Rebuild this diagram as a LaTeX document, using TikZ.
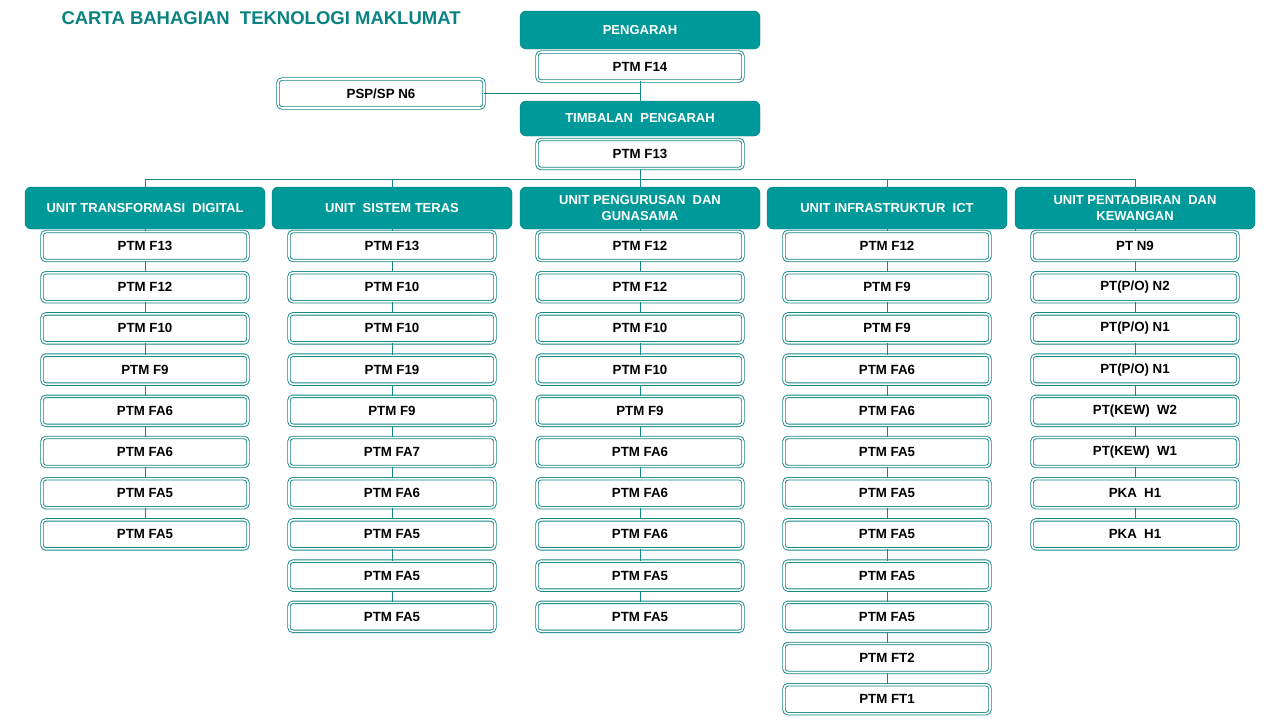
\documentclass[tikz,border=0pt]{standalone}
\usepackage{fontspec}
\setmainfont{Liberation Sans}
\definecolor{tealfill}{RGB}{0,153,153}
\definecolor{tealline}{RGB}{20,135,135}
\definecolor{titlecol}{RGB}{10,130,130}

\tikzset{
  headbox/.style={fill=tealfill,draw=tealfill!80!black,line width=0.4pt,rounded corners=6pt,
    minimum width=240pt,text=white,font=\fontsize{13}{16}\selectfont\bfseries,align=center,inner sep=2pt},
  postbox/.style={draw=tealline,double=white,double distance=1.6pt,line width=0.9pt,fill=white,
    rounded corners=4pt,minimum width=206pt,minimum height=29pt,inner sep=0pt,
    font=\fontsize{13.3}{15}\selectfont\bfseries},
  link/.style={draw=tealline,line width=0.8pt}
}

\begin{document}
\begin{tikzpicture}[x=1pt,y=-1pt]
\useasboundingbox (0,0) rectangle (1280,720);

\node[anchor=west,text=titlecol,font=\fontsize{18.5}{20}\selectfont\bfseries] (title) at (58,18) {CARTA BAHAGIAN\ \ TEKNOLOGI MAKLUMAT};

% top of the chart
\node[headbox,minimum height=38pt] (pengarah) at (640,30) {PENGARAH};
\node[postbox] (f14) at (640,66.5) {PTM F14};
\node[postbox] (psp) at (381,93.5) {PSP/SP N6};
\node[headbox,minimum height=35pt] (timbalan) at (640,118.5) {TIMBALAN\ \ PENGARAH};
\node[postbox] (f13) at (640,154) {PTM F13};
\coordinate (bus) at (640,179);

\draw[link] (f14.south) -- (timbalan.north);
\draw[link] (psp.east) -- (psp.east -| f14.south);
\draw[link] (f13.south) -- (bus);

% units
\node[headbox,minimum height=42pt] (c1-0) at (145,208) {UNIT TRANSFORMASI\ \ DIGITAL};
\node[headbox,minimum height=42pt] (c2-0) at (392,208) {UNIT\ \ SISTEM TERAS};
\node[headbox,minimum height=42pt] (c3-0) at (640,208) {UNIT PENGURUSAN\ \ DAN\\GUNASAMA};
\node[headbox,minimum height=42pt] (c4-0) at (887,208) {UNIT INFRASTRUKTUR\ \ ICT};
\node[headbox,minimum height=42pt] (c5-0) at (1135,208) {UNIT PENTADBIRAN\ \ DAN\\KEWANGAN};

\foreach \u in {1,...,5}
  \draw[link] (c\u-0.north) |- (bus);

% posts under each unit
\foreach \u/\cx/\items in {
  1/145/{PTM F13,PTM F12,PTM F10,PTM F9,PTM FA6,PTM FA6,PTM FA5,PTM FA5},
  2/392/{PTM F13,PTM F10,PTM F10,PTM F19,PTM F9,PTM FA7,PTM FA6,PTM FA5,PTM FA5,PTM FA5},
  3/640/{PTM F12,PTM F12,PTM F10,PTM F10,PTM F9,PTM FA6,PTM FA6,PTM FA6,PTM FA5,PTM FA5},
  4/887/{PTM F12,PTM F9,PTM F9,PTM FA6,PTM FA6,PTM FA5,PTM FA5,PTM FA5,PTM FA5,PTM FA5,PTM FT2,PTM FT1},
  5/1135/{PT N9,PT(P/O) N2,PT(P/O) N1,PT(P/O) N1,PT(KEW)\ \ W2,PT(KEW)\ \ W1,PKA\ \ H1,PKA\ \ H1}}
{
  \foreach \t [count=\i] in \items {
    \pgfmathtruncatemacro\j{\i-1}
    \node[postbox] (c\u-\i) at (\cx,{246+41.2*(\i-1)}) {\t};
    \draw[link] (c\u-\j.south) -- (c\u-\i.north);
  }
}
\end{tikzpicture}
\end{document}
